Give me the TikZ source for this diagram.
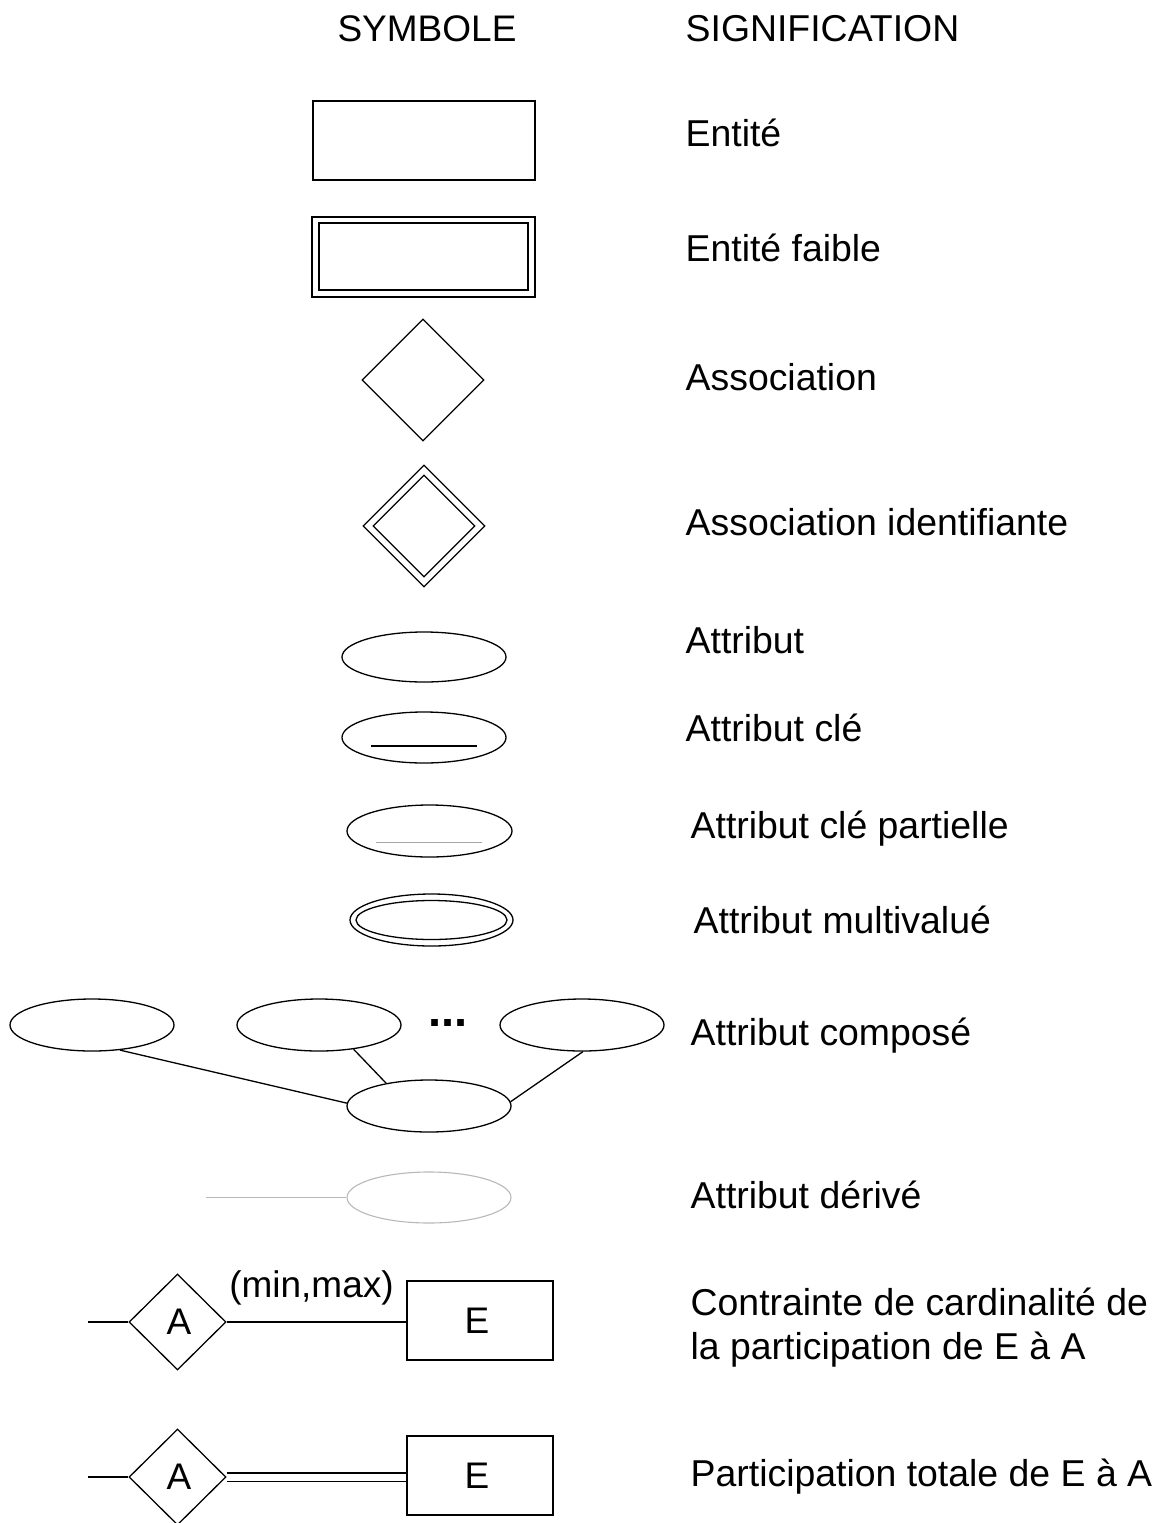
\documentclass[tikz,border=0pt]{standalone}
\usepackage{fontspec}
\setmainfont{Liberation Sans}
\usetikzlibrary{shapes.geometric}
\begin{document}
\begin{tikzpicture}[x=1pt,y=-1pt,line width=1.3pt,
  lbl/.style={anchor=base west,inner sep=0,font=\fontsize{37.4}{44}\selectfont},
  hdr/.style={anchor=base,inner sep=0,font=\fontsize{37}{44}\selectfont},
  ent/.style={draw,rectangle,inner sep=0,minimum width=#1},
  ent/.default=222,
  assoc/.style={draw,diamond,inner sep=0,minimum width=#1,minimum height=#1},
  attr/.style={draw,ellipse,inner sep=0,minimum width=164,minimum height=51},
  txt/.style={inner sep=0,font=\fontsize{37}{44}\selectfont},
  derived/.style={draw=black!28,line width=1.1pt}
]
\useasboundingbox (0,0) rectangle (1163,1523);

% headers
\node[hdr] (h1) at (427,41) {SYMBOLE};
\node[lbl] (h2) at (685,41) {SIGNIFICATION};

% entity
\node[ent,minimum height=79] (e1) at (424,140.5) {};
\node[lbl] (l1) at (685,146) {Entité};

% weak entity
\node[ent=223,minimum height=80] (w1) at (423.5,257) {};
\node[ent=209,minimum height=67] (w2) at (423.5,256.5) {};
\node[lbl] (l2) at (685,261) {Entité faible};

% association
\node[assoc=122] (a1) at (423,380) {};
\node[lbl] (l3) at (685,390) {Association};

% identifying association
\node[assoc=122] (ia1) at (424,526) {};
\node[assoc=102] (ia2) at (424,526) {};
\node[lbl] (l4) at (685,535) {Association identifiante};

% attribute
\node[attr,minimum height=50] (at1) at (424,657) {};
\node[lbl] (l5) at (685,653) {Attribut};

% key attribute
\node[attr] (k1) at (424,737.5) {};
\coordinate (k1a) at (371,746);
\coordinate (k1b) at (477,746);
\draw (k1a) -- (k1b);
\node[lbl] (l6) at (685,741) {Attribut clé};

% partial key
\node[attr,minimum width=165,minimum height=52] (p1) at (429.5,831) {};
\coordinate (p1a) at (376,842);
\coordinate (p1b) at (482,842);
\draw[black!35,line width=1pt] (p1a) -- (p1b);
\node[lbl] (l7) at (690,838) {Attribut clé partielle};

% multivalued
\node[attr,minimum width=163,minimum height=52] (m1) at (431.5,920) {};
\node[draw,ellipse,inner sep=0,minimum width=151,minimum height=39] (m2) at (431.5,920) {};
\node[lbl] (l8) at (693,933) {Attribut multivalué};

% composite
\node[attr,minimum height=52] (c1) at (92,1025) {};
\node[attr,minimum height=52] (c2) at (319,1025) {};
\node[attr,minimum height=52] (c3) at (582,1025) {};
\node[attr,minimum height=52] (c0) at (429,1106) {};
\node[anchor=base,inner sep=0,font=\fontsize{47}{50}\selectfont\bfseries] (dots) at (448,1026) {...};
\draw (c1.-42) -- (c0.178);
\draw (c2.-35) -- (c0.152);
\draw (c3.-88) -- (c0.3);
\node[lbl] (l9) at (690,1045) {Attribut composé};

% derived
\node[attr,draw=black!28,line width=1.1pt] (d1) at (429,1197.5) {};
\coordinate (d0) at (206,1197.5);
\draw[derived] (d0) -- (d1.west);
\node[lbl] (l10) at (690,1208) {Attribut dérivé};

% cardinality
\node[draw,diamond,inner sep=0,minimum width=97,minimum height=96] (ca) at (177.5,1322) {};
\node[txt] (caA) at (179,1322) {A};
\node[ent=146,minimum height=79] (ce) at (480,1320.5) {};
\node[txt] (ceE) at (477,1320.5) {E};
\coordinate (cs) at (88,1322);
\draw (cs) -- (ca.west);
\draw (ca.east) -- (ca.east -| ce.west);
\node[hdr] (mm) at (311.5,1297) {(min,max)};
\node[lbl] (l11) at (690,1315) {Contrainte de cardinalité de};
\node[lbl] (l12) at (690,1359) {la participation de E à A};

% total participation
\node[draw,diamond,inner sep=0,minimum width=97,minimum height=96] (ta) at (177.5,1477) {};
\node[txt] (taA) at (179,1477) {A};
\node[ent=146,minimum height=79] (te) at (480,1475.5) {};
\node[txt] (teE) at (477,1475.5) {E};
\coordinate (ts) at (88,1477);
\draw (ts) -- (ta.west);
\draw[double,double distance=7pt,line width=1.2pt] (ta.east) -- (ta.east -| te.west);
\node[lbl] (l13) at (690,1486) {Participation totale de E à A};
\end{tikzpicture}
\end{document}
